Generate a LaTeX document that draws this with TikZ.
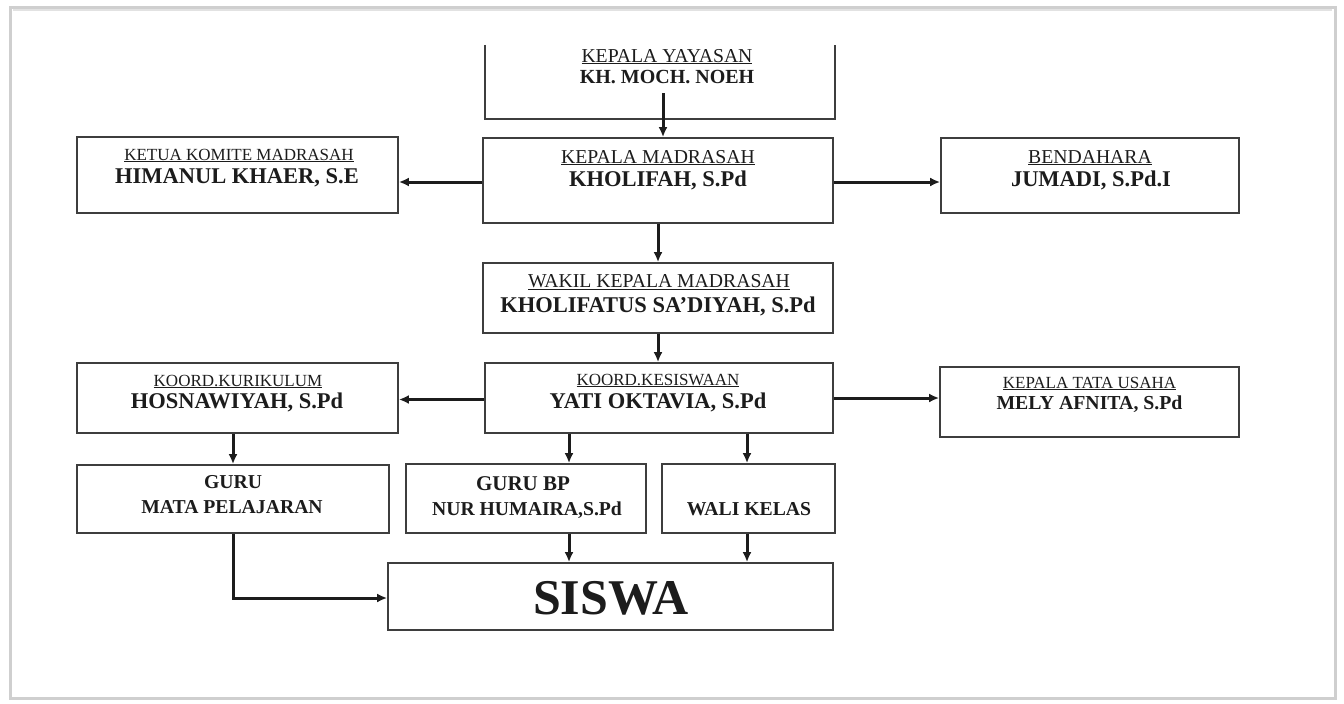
\documentclass[tikz,border=0pt]{standalone}
\usepackage{fontspec}
\setmainfont{Liberation Serif}
\usetikzlibrary{arrows.meta}
\definecolor{ink}{HTML}{1C1C1C}
\definecolor{frame}{HTML}{CFCFCF}
\newcommand{\fs}[1]{\fontsize{#1}{#1}\selectfont}
\tikzset{
  x=1pt, y=-1pt,
  orgbox/.style={draw=ink!85, line width=1.8pt, inner sep=0pt, fill=white},
  ghost/.style={inner sep=0pt},
  lbl/.style={anchor=base, inner sep=0pt, text=ink},
  arr/.style={draw=ink, line width=3pt, -{Latex[length=10pt,width=9pt]}},
}
\begin{document}
\begin{tikzpicture}
\useasboundingbox (0,0) rectangle (1344,704);
% outer frame
\fill[white] (0,0) rectangle (1344,704);
\draw[frame, line width=3pt] (10,7) rectangle (1335,698);
\draw[frame!60, line width=1.5pt] (13,10) -- (1332,10);

% boxes
\node[ghost, minimum width=350pt, minimum height=74pt] (yayasan) at (660,82) {};
\draw[draw=ink!85, line width=1.8pt] (yayasan.north west) -- (yayasan.south west) -- (yayasan.south east) -- (yayasan.north east);
\node[orgbox, minimum width=350pt, minimum height=85pt] (kepala) at (658,180.5) {};
\node[orgbox, minimum width=321pt, minimum height=76pt] (ketua) at (237.5,175) {};
\node[orgbox, minimum width=298pt, minimum height=75pt] (bendahara) at (1090,175.5) {};
\node[orgbox, minimum width=350pt, minimum height=70pt] (wakil) at (658,298) {};
\node[orgbox, minimum width=348pt, minimum height=70pt] (kesiswaan) at (659,398) {};
\node[orgbox, minimum width=321pt, minimum height=70pt] (kurikulum) at (237.5,398) {};
\node[orgbox, minimum width=299pt, minimum height=70pt] (tu) at (1089.5,402) {};
\node[orgbox, minimum width=312pt, minimum height=68pt] (gurump) at (233,499) {};
\node[orgbox, minimum width=240pt, minimum height=69pt] (gurubp) at (526,498.5) {};
\node[orgbox, minimum width=173pt, minimum height=69pt] (wali) at (748.5,498.5) {};
\node[orgbox, minimum width=445pt, minimum height=67pt] (siswa) at (610.5,596.5) {};

% texts
\node[lbl] (t1a) at (667,62) {\fs{19.7}\underline{KEPALA YAYASAN}};
\node[lbl] (t1b) at (667,83) {\fs{20}\bfseries KH. MOCH. NOEH};
\node[lbl] (t2a) at (658,163) {\fs{19.7}\underline{KEPALA MADRASAH}};
\node[lbl] (t2b) at (658,186) {\fs{22.5}\bfseries KHOLIFAH, S.Pd};
\node[lbl] (t3a) at (239,160) {\fs{17}\underline{KETUA KOMITE MADRASAH}};
\node[lbl] (t3b) at (237,183) {\fs{22.5}\bfseries HIMANUL KHAER, S.E};
\node[lbl] (t4a) at (1090,163) {\fs{19.7}\underline{BENDAHARA}};
\node[lbl] (t4b) at (1091,186) {\fs{22.5}\bfseries JUMADI, S.Pd.I};
\node[lbl] (t5a) at (659,287) {\fs{19.7}\underline{WAKIL KEPALA MADRASAH}};
\node[lbl] (t5b) at (658,312) {\fs{22.5}\bfseries KHOLIFATUS SA’DIYAH, S.Pd};
\node[lbl] (t6a) at (658,385) {\fs{17}\underline{KOORD.KESISWAAN}};
\node[lbl] (t6b) at (658,408) {\fs{22.5}\bfseries YATI OKTAVIA, S.Pd};
\node[lbl] (t7a) at (238,386) {\fs{17}\underline{KOORD.KURIKULUM}};
\node[lbl] (t7b) at (237,408) {\fs{22.5}\bfseries HOSNAWIYAH, S.Pd};
\node[lbl] (t8a) at (1089.5,388) {\fs{17}\underline{KEPALA TATA USAHA}};
\node[lbl] (t8b) at (1089.5,409) {\fs{19.8}\bfseries MELY AFNITA, S.Pd};
\node[lbl] (t9a) at (233,488) {\fs{19.7}\bfseries GURU};
\node[lbl] (t9b) at (232,513) {\fs{19.7}\bfseries MATA PELAJARAN};
\node[lbl] (t10a) at (523,490) {\fs{21}\bfseries GURU BP};
\node[lbl] (t10b) at (527,515) {\fs{19.7}\bfseries NUR HUMAIRA,S.Pd};
\node[lbl] (t11) at (749,515) {\fs{19.7}\bfseries WALI KELAS};
\node[lbl] (t12) at (611,614) {\fs{50}\bfseries SISWA};

% connectors
\coordinate (ystart) at (663,93);
\draw[arr] (ystart) -- (ystart |- kepala.north);
\draw[arr] ([yshift=-1.5pt]kepala.west) -- ([yshift=-1.5pt]kepala.west -| ketua.east);
\draw[arr] ([yshift=-1.5pt]kepala.east) -- ([yshift=-1.5pt]kepala.east -| bendahara.west);
\draw[arr] (kepala.south) -- (wakil.north);
\draw[arr] (wakil.south) -- (wakil.south |- kesiswaan.north);
\draw[arr] ([yshift=-1.5pt]kesiswaan.west) -- ([yshift=-1.5pt]kesiswaan.west -| kurikulum.east);
\draw[arr] (kesiswaan.east) -- (kesiswaan.east -| tu.west);
\draw[arr] (gurump.north |- kurikulum.south) -- (gurump.north);
\draw[arr] ([xshift=-90pt]kesiswaan.south) -- ([xshift=-90pt]kesiswaan.south |- gurubp.north);
\draw[arr] ([xshift=88pt]kesiswaan.south) -- ([xshift=88pt]kesiswaan.south |- wali.north);
\draw[arr] ([xshift=43pt]gurubp.south) -- ([xshift=43pt]gurubp.south |- siswa.north);
\draw[arr] ([xshift=-1.5pt]wali.south) -- ([xshift=-1.5pt]wali.south |- siswa.north);
\draw[arr] (gurump.south) |- ([yshift=-1.5pt]siswa.west);
\end{tikzpicture}
\end{document}
